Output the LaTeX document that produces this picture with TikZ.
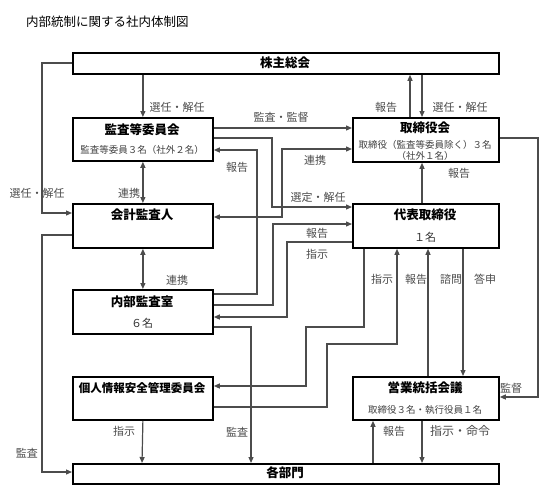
\documentclass[tikz,border=0pt]{standalone}
\usepackage{fontspec}
\setmainfont{Noto Sans CJK JP}
\usetikzlibrary{arrows.meta}
\begin{document}
\begin{tikzpicture}[x=1pt,y=-1pt,
  box/.style={draw=black, line width=1.8pt, inner sep=0pt, anchor=north west},
  ttl/.style={inner sep=0pt, font=\fontsize{12.5}{14}\selectfont\bfseries},
  sub/.style={inner sep=0pt, text=black!75, font=\fontsize{9.5}{11}\selectfont},
  cnt/.style={inner sep=0pt, text=black!80, font=\fontsize{11}{13}\selectfont},
  lbl/.style={inner sep=0pt, text=black!70, font=\fontsize{11}{13}\selectfont},
  conn/.style={draw=black!70, line width=1.2pt},
  arr/.style={conn, -{Triangle[length=6pt,width=5pt]}},
  darr/.style={conn, {Triangle[length=6pt,width=5pt]}-{Triangle[length=6pt,width=5pt]}}]
\useasboundingbox (0,0) rectangle (559,503);
% title
\node[anchor=west, inner sep=0pt, font=\fontsize{12.5}{14}\selectfont] (title) at (26,22) {内部統制に関する社内体制図};
% boxes
\node[box, minimum width=426pt, minimum height=21pt] (kabu) at (72,52) {};
\node[box, minimum width=140pt, minimum height=43pt] (kansa) at (72,117) {};
\node[box, minimum width=146pt, minimum height=44pt] (tori) at (352,117) {};
\node[box, minimum width=140pt, minimum height=44pt] (kaikei) at (72,203) {};
\node[box, minimum width=146pt, minimum height=44pt] (daihyo) at (352,203) {};
\node[box, minimum width=140pt, minimum height=44pt] (naibu) at (72,289) {};
\node[box, minimum width=140pt, minimum height=43pt] (kojin) at (72,376) {};
\node[box, minimum width=146pt, minimum height=43pt] (eigyo) at (352,376) {};
\node[box, minimum width=426pt, minimum height=20pt] (kakubu) at (72,463) {};
% box texts
\node[ttl] (kabuT) at (285,63) {株主総会};
\node[ttl] (kansaT) at (142,130) {監査等委員会};
\node[sub] (kansaS) at (142,150) {監査等委員３名（社外２名）};
\node[ttl] (toriT) at (425,128) {取締役会};
\node[sub] (toriS1) at (425,145) {取締役（監査等委員除く）３名};
\node[sub] (toriS2) at (425,156) {（社外１名）};
\node[ttl] (kaikeiT) at (142,215) {会計監査人};
\node[ttl] (daihyoT) at (425,215) {代表取締役};
\node[cnt] (daihyoS) at (425,237) {１名};
\node[ttl] (naibuT) at (142,302) {内部監査室};
\node[cnt] (naibuS) at (142,323) {６名};
\node[ttl, font=\fontsize{11.5}{13}\selectfont\bfseries] (kojinT) at (142,388) {個人情報安全管理委員会};
\node[ttl] (eigyoT) at (425,388) {営業統括会議};
\node[sub] (eigyoS) at (425,410) {取締役３名・執行役員１名};
\node[ttl] (kakubuT) at (285,473) {各部門};
% connectors
\draw[arr] (kabu.west |- 0,63) -- (42,63) |- (kaikei.west |- 0,213);
\node[lbl] (l1) at (37,193) {選任・解任};
\draw[arr] (kansa.north |- kabu.south) -- (kansa.north);
\node[lbl] (l2) at (177,107) {選任・解任};
\draw[arr] (tori.north -| 410,0) -- (kabu.south -| 410,0);
\node[lbl] (l3) at (386,107) {報告};
\draw[arr] (kabu.south -| 422,0) -- (tori.north -| 422,0);
\node[lbl] (l4) at (460,107) {選任・解任};
\draw[darr] (kansa.south) -- (kaikei.north);
\node[lbl] (l5) at (129,193) {連携};
\draw[darr] (kaikei.south) -- (naibu.north);
\node[lbl] (l6) at (177,280) {連携};
\draw[arr] (kansa.east |- 0,128) -- (tori.west |- 0,128);
\node[lbl] (l7) at (281,117) {監査・監督};
\draw[arr] (kansa.east |- 0,138) -- (272,138) |- (daihyo.west |- 0,207);
\node[lbl] (l8) at (318,197) {選定・解任};
\draw[arr] (naibu.east |- 0,294) -- (257,294) |- (kansa.east |- 0,150);
\node[lbl] (l9) at (237,167) {報告};
\draw[darr] (kaikei.east |- 0,217) -- (282,217) |- (tori.west |- 0,149);
\node[lbl] (l10) at (315,160) {連携};
\draw[arr] (naibu.east |- 0,305) -- (273,305) |- (daihyo.west |- 0,224);
\node[lbl] (l11) at (317,233) {報告};
\draw[arr] (daihyo.west |- 0,242) -- (287,242) |- (naibu.east |- 0,317);
\node[lbl] (l12) at (317,254) {指示};
\draw[arr] (naibu.east |- 0,327) -| (kakubu.north -| 251,0);
\node[lbl] (l13) at (237,432) {監査};
\draw[arr] (daihyo.south -| 364,0) -- (364,327) -- (306,327) |- (kojin.east |- 0,386);
\node[lbl] (l14) at (382,279) {指示};
\draw[arr] (kojin.east |- 0,407) -- (327,407) |- (397,344) -- (daihyo.south -| 397,0);
\node[lbl] (l15) at (416,279) {報告};
\draw[arr] (eigyo.north -| 428,0) -- (daihyo.south -| 428,0);
\draw[arr] (daihyo.south -| 463,0) -- (eigyo.north -| 463,0);
\node[lbl] (l16) at (451,279) {諮問};
\node[lbl] (l17) at (485,279) {答申};
\draw[arr] (tori.east |- 0,138) -- (538,138) |- (eigyo.east |- 0,397);
\node[lbl] (l18) at (511,388) {監督};
\draw[arr] (daihyo.north -| 422,0) -- (tori.south -| 422,0);
\node[lbl] (l19) at (459,173) {報告};
\draw[arr] (kakubu.north -| 373,0) -- (eigyo.south -| 373,0);
\node[lbl] (l20) at (394,431) {報告};
\draw[arr] (eigyo.south -| 422,0) -- (kakubu.north -| 422,0);
\node[lbl, font=\fontsize{12}{14}\selectfont] (l21) at (460,431) {指示・命令};
\draw[arr] (kojin.south) -- (kakubu.north -| 142,0);
\node[lbl] (l22) at (124,431) {指示};
\draw[arr] (kaikei.west |- 0,235) -- (42,235) |- (kakubu.west |- 0,472);
\node[lbl] (l23) at (27,453) {監査};
\end{tikzpicture}
\end{document}
